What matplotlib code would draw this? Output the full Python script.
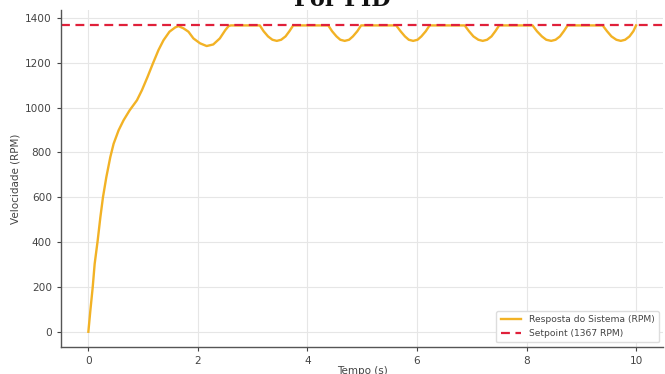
import matplotlib
matplotlib.use("Agg")
import matplotlib.pyplot as plt

# Values
tempo = [0.0, 0.036, 0.079, 0.115, 0.170, 0.219, 0.267, 0.328, 0.401, 0.461, 0.552, 0.643,
         0.753, 0.887, 0.978, 1.08, 1.178, 1.28, 1.372, 1.481, 1.585, 1.645, 1.736, 1.827,
         1.918, 2.04, 2.16, 2.28, 2.40, 2.50, 2.56, 2.60,
         3.13, 3.20, 3.28, 3.36, 3.44, 3.52, 3.60, 3.67, 3.74,
         4.38, 4.45, 4.53, 4.60, 4.68, 4.76, 4.83, 4.91, 4.98,
         5.62, 5.70, 5.78, 5.85, 5.93, 6.01, 6.08, 6.16, 6.23,
         6.87, 6.95, 7.03, 7.12, 7.20, 7.28, 7.36, 7.43, 7.50,
         8.11, 8.19, 8.28, 8.36, 8.45, 8.53, 8.61, 8.68, 8.75,
         9.39, 9.47, 9.55, 9.64, 9.72, 9.80, 9.88, 9.95, 10.0]
velocidade = [0, 94, 198, 303, 407, 511, 601, 690, 780, 839, 899, 944,
              988, 1033, 1078, 1137, 1197, 1257, 1301, 1339, 1358, 1364, 1354, 1339,
              1309, 1287, 1275, 1282, 1309, 1346, 1364, 1367,
              1367, 1341, 1318, 1303, 1298, 1303, 1318, 1341, 1367,
              1367, 1341, 1318, 1303, 1298, 1303, 1318, 1341, 1367,
              1367, 1341, 1318, 1303, 1298, 1303, 1318, 1341, 1367,
              1367, 1341, 1318, 1303, 1298, 1303, 1318, 1341, 1367,
              1367, 1341, 1318, 1303, 1298, 1303, 1318, 1341, 1367,
              1367, 1341, 1318, 1303, 1298, 1303, 1318, 1341, 1367]
setpoint = 1367
titulo = "Por PID"
rotulo_resposta = "Resposta do Sistema (RPM)"
rotulo_setpoint = "Setpoint (1367 RPM)"

fig = plt.figure(figsize=(6.65, 3.74), dpi=100)
ax = fig.add_axes([0.0917, 0.072, 0.906, 0.901])

ax.plot(tempo, velocidade, color="#F2B225", lw=1.7, label=rotulo_resposta,
        solid_joinstyle="round")
ax.axhline(setpoint, color="#E0203A", lw=1.6, ls=(0, (4, 2.5)), label=rotulo_setpoint)

ax.set_xlim(-0.5, 10.5)
ax.set_ylim(-68.35, 1435.35)
ax.set_xticks([0, 2, 4, 6, 8, 10])
ax.set_yticks([0, 200, 400, 600, 800, 1000, 1200, 1400])

ax.grid(True, color="#e6e6e6", lw=0.8)
ax.set_axisbelow(True)
for s in ["top", "right"]:
    ax.spines[s].set_visible(False)
for s in ["left", "bottom"]:
    ax.spines[s].set_color("#555555")
    ax.spines[s].set_linewidth(1.0)
ax.tick_params(axis="both", labelsize=7.6, colors="#444444", length=3, width=0.8)

ax.set_xlabel("Tempo (s)", fontsize=7.5, color="#444444", labelpad=0)
ax.set_ylabel("Velocidade (RPM)", fontsize=7.5, color="#444444", labelpad=3)

leg = ax.legend(loc="lower right", fontsize=6.6, frameon=True, framealpha=1,
                edgecolor="#dddddd", borderpad=0.5, handlelength=2.2, labelspacing=0.5)
for t in leg.get_texts():
    t.set_color("#444444")

fig.text(0.515, 0.985, titulo, ha="center", va="baseline", fontsize=16,
         family="DejaVu Serif", fontweight="bold", color="#111111")

fig.savefig("out.png", dpi=100)
